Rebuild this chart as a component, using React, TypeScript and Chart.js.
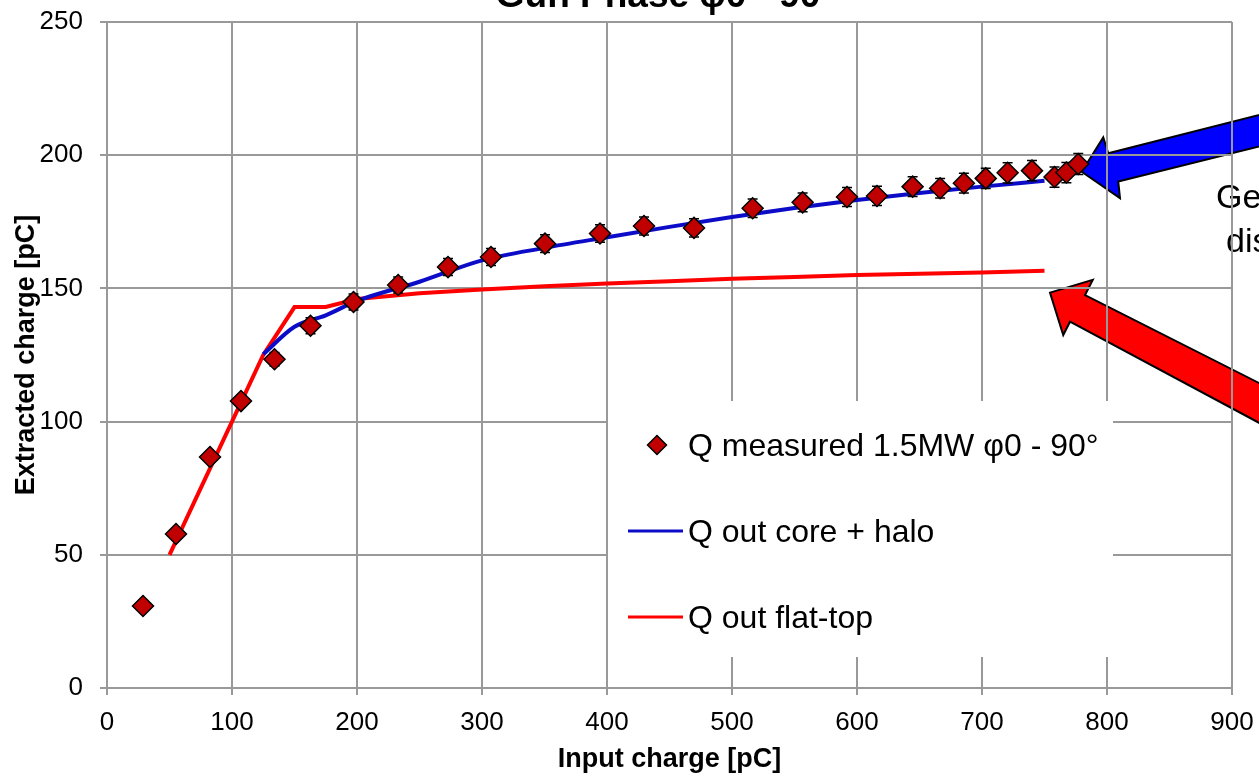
import React, { useEffect, useRef } from "react";
import { Chart, registerables } from "chart.js";

Chart.register(...registerables);

const FONT = '"Liberation Sans", Arial, Helvetica, sans-serif';

const chartTitle = "Gun Phase φ0 - 90°";
const xAxisTitle = "Input charge [pC]";
const yAxisTitle = "Extracted charge [pC]";
const seriesNames = ["Q measured 1.5MW φ0 - 90°", "Q out core + halo", "Q out flat-top"];
const noteLines = ["Ge", "dis"];

const xTickValues = [0, 100, 200, 300, 400, 500, 600, 700, 800, 900];
const yTickValues = [0, 50, 100, 150, 200, 250];

// measured points (input charge, extracted charge, error)
const measuredX = [28.8, 55.2, 82.4, 107.2, 134.0, 162.8, 197.2, 232.9, 272.8, 307.2, 350.4, 394.4, 429.6, 469.6, 516.5, 556.5, 592.0, 616.0, 644.5, 666.5, 685.5, 703.0, 720.5, 740.0, 758.0, 767.5, 777.0];
const measuredY = [30.8, 57.8, 86.7, 107.7, 123.4, 136.0, 144.9, 151.3, 158.0, 161.8, 166.8, 170.6, 173.4, 172.7, 180.1, 182.3, 184.3, 184.7, 188.2, 187.6, 189.5, 191.3, 193.4, 194.2, 191.8, 193.5, 196.7];
const measuredErr = [0.6, 1.1, 1.7, 2.2, 2.5, 3.0, 3.0, 3.0, 3.2, 3.2, 3.3, 3.3, 3.4, 3.4, 3.5, 3.5, 3.6, 3.6, 3.7, 3.7, 3.7, 3.8, 3.8, 3.8, 3.8, 3.8, 3.9];

// simulation: core + halo
const coreHaloX = [125, 150, 175, 200, 250, 300, 350, 400, 450, 500, 550, 600, 650, 700, 750];
const coreHaloY = [125.3, 135.6, 139.9, 145.3, 152.5, 160.5, 165.2, 169.2, 173.1, 176.8, 180.2, 183.2, 185.8, 188.2, 190.4];

// simulation: flat-top
const flatTopX = [50, 75, 100, 125, 150, 175, 200, 250, 300, 350, 400, 450, 500, 550, 600, 650, 700, 750];
const flatTopY = [50, 75, 100, 125, 143, 143, 146, 148.2, 149.6, 150.8, 151.8, 152.7, 153.6, 154.3, 155, 155.5, 156, 156.6];

// annotation arrows (data units)
const blueArrowX = [779.8, 797.0, 801.0, 1000, 1000, 809.0, 810.4];
const blueArrowY = [193.8, 206.7, 200.7, 224.4, 212.4, 190.1, 183.9];
const redArrowX = [754.4, 788.6, 782.4, 1000, 1000, 770.4, 765.0];
const redArrowY = [148.4, 153.2, 147.5, 95.9, 79.9, 137.5, 132.5];
const noteX = [887.2, 895.2];
const noteY = [180.2, 163.7];

const COLORS = {
  grid: "#999999",
  marker: "#c00000",
  blue: "#0c0cc8",
  red: "#ff0000",
};

const decorPlugin = {
  id: "decor",
  beforeDraw(chart: any) {
    const { ctx } = chart;
    const xs = chart.scales.x;
    const ys = chart.scales.y;
    const arrow = (ax: number[], ay: number[], fill: string) => {
      ctx.beginPath();
      ax.forEach((v, i) => {
        const px = xs.getPixelForValue(v);
        const py = ys.getPixelForValue(ay[i]);
        if (i === 0) ctx.moveTo(px, py);
        else ctx.lineTo(px, py);
      });
      ctx.closePath();
      ctx.fillStyle = fill;
      ctx.fill();
      ctx.lineWidth = 2;
      ctx.lineJoin = "miter";
      ctx.strokeStyle = "#000";
      ctx.stroke();
    };
    ctx.save();
    arrow(blueArrowX, blueArrowY, "#0000ff");
    arrow(redArrowX, redArrowY, "#ff0000");
    ctx.fillStyle = "#000";
    ctx.font = `34px ${FONT}`;
    ctx.textAlign = "left";
    ctx.textBaseline = "alphabetic";
    noteLines.forEach((t, i) => {
      ctx.fillText(t, xs.getPixelForValue(noteX[i]), ys.getPixelForValue(noteY[i]));
    });
    ctx.restore();
  },
  beforeDatasetDraw(chart: any, args: any) {
    if (args.index !== 0) return;
    const { ctx } = chart;
    const xs = chart.scales.x;
    const ys = chart.scales.y;
    ctx.save();
    ctx.strokeStyle = "#000";
    ctx.lineWidth = 1.5;
    measuredX.forEach((xv, i) => {
      const px = xs.getPixelForValue(xv);
      const top = ys.getPixelForValue(measuredY[i] + measuredErr[i]);
      const bot = ys.getPixelForValue(measuredY[i] - measuredErr[i]);
      ctx.beginPath();
      ctx.moveTo(px, top);
      ctx.lineTo(px, bot);
      ctx.moveTo(px - 5, top);
      ctx.lineTo(px + 5, top);
      ctx.moveTo(px - 5, bot);
      ctx.lineTo(px + 5, bot);
      ctx.stroke();
    });
    ctx.restore();
  },
  afterDatasetsDraw(chart: any) {
    const { ctx, chartArea: ca } = chart;
    const bx = ca.left + 501;
    const by = ca.top + 379;
    ctx.save();
    ctx.fillStyle = "#fff";
    ctx.fillRect(bx, by, 505, 256);
    ctx.font = `32px ${FONT}`;
    ctx.textAlign = "left";
    ctx.textBaseline = "alphabetic";
    const textX = bx + 80;
    // item 1: marker
    const my = by + 44;
    const mx = bx + 49;
    const r = 9.5;
    ctx.beginPath();
    ctx.moveTo(mx - r, my);
    ctx.lineTo(mx, my - r);
    ctx.lineTo(mx + r, my);
    ctx.lineTo(mx, my + r);
    ctx.closePath();
    ctx.fillStyle = COLORS.marker;
    ctx.fill();
    ctx.lineWidth = 1.5;
    ctx.strokeStyle = "#000";
    ctx.stroke();
    ctx.fillStyle = "#000";
    ctx.fillText(seriesNames[0], textX, by + 55);
    // item 2
    ctx.beginPath();
    ctx.moveTo(bx + 20, by + 130);
    ctx.lineTo(bx + 75, by + 130);
    ctx.strokeStyle = COLORS.blue;
    ctx.lineWidth = 3;
    ctx.stroke();
    ctx.fillText(seriesNames[1], textX, by + 141);
    // item 3
    ctx.beginPath();
    ctx.moveTo(bx + 20, by + 216);
    ctx.lineTo(bx + 75, by + 216);
    ctx.strokeStyle = COLORS.red;
    ctx.stroke();
    ctx.fillText(seriesNames[2], textX, by + 227);
    ctx.restore();
  },
  afterDraw(chart: any) {
    const { ctx, chartArea: ca } = chart;
    ctx.save();
    ctx.fillStyle = "#000";
    ctx.font = `bold 37px ${FONT}`;
    ctx.textAlign = "center";
    ctx.textBaseline = "alphabetic";
    ctx.fillText(chartTitle, (ca.left + ca.right) / 2 - 4, 6.5);
    ctx.restore();
  },
};

export default function App() {
  const ref = useRef<HTMLCanvasElement | null>(null);

  useEffect(() => {
    if (!ref.current) return;
    const chart = new Chart(ref.current, {
      type: "scatter",
      data: {
        datasets: [
          {
            label: seriesNames[0],
            data: measuredX.map((x, i) => ({ x, y: measuredY[i] })),
            showLine: false,
            pointStyle: "rectRot",
            pointRadius: 10.5,
            backgroundColor: COLORS.marker,
            borderColor: "#000",
            borderWidth: 1.5,
          } as any,
          {
            label: seriesNames[1],
            data: coreHaloX.map((x, i) => ({ x, y: coreHaloY[i] })),
            showLine: true,
            borderColor: COLORS.blue,
            borderWidth: 4,
            pointRadius: 0,
            cubicInterpolationMode: "monotone",
          } as any,
          {
            label: seriesNames[2],
            data: flatTopX.map((x, i) => ({ x, y: flatTopY[i] })),
            showLine: true,
            borderColor: COLORS.red,
            borderWidth: 4,
            pointRadius: 0,
            tension: 0,
          } as any,
        ],
      },
      options: {
        animation: false,
        responsive: false,
        events: [],
        layout: { padding: { left: 0, right: 27, top: 22, bottom: 0 } },
        plugins: {
          legend: { display: false },
          tooltip: { enabled: false },
          title: { display: false },
        },
        scales: {
          x: {
            type: "linear",
            min: 0,
            max: 900,
            afterBuildTicks: (s: any) => {
              s.ticks = xTickValues.map((v) => ({ value: v }));
            },
            afterFit: (s: any) => {
              s.height = 91;
              s.paddingLeft = 0;
              s.paddingRight = 0;
            },
            grid: { color: COLORS.grid, lineWidth: 2, tickLength: 7, drawTicks: true },
            border: { color: COLORS.grid, width: 2 },
            ticks: {
              color: "#000",
              font: { family: FONT, size: 26 },
              padding: 12,
              maxRotation: 0,
              autoSkip: false,
            },
            title: {
              display: true,
              text: xAxisTitle,
              color: "#000",
              font: { family: FONT, size: 27, weight: "bold" },
              padding: { top: 0, bottom: 3 },
            },
          },
          y: {
            type: "linear",
            min: 0,
            max: 250,
            afterBuildTicks: (s: any) => {
              s.ticks = yTickValues.map((v) => ({ value: v }));
            },
            afterFit: (s: any) => {
              s.width = 107;
              s.paddingTop = 0;
              s.paddingBottom = 0;
            },
            grid: { color: COLORS.grid, lineWidth: 2, tickLength: 7, drawTicks: true },
            border: { color: COLORS.grid, width: 2 },
            ticks: {
              color: "#000",
              font: { family: FONT, size: 26 },
              padding: 17,
              autoSkip: false,
            },
            title: {
              display: true,
              text: yAxisTitle,
              color: "#000",
              font: { family: FONT, size: 27, weight: "bold" },
              padding: { top: 10, bottom: 0 },
            },
          },
        },
      } as any,
      plugins: [decorPlugin],
    });
    return () => chart.destroy();
  }, []);

  return (
    <div
      style={{
        position: "absolute",
        left: 0,
        top: 0,
        width: 1259,
        height: 779,
        overflow: "hidden",
        background: "#fff",
      }}
    >
      <canvas ref={ref} width={1259} height={779} style={{ width: 1259, height: 779, display: "block" }} />
    </div>
  );
}
